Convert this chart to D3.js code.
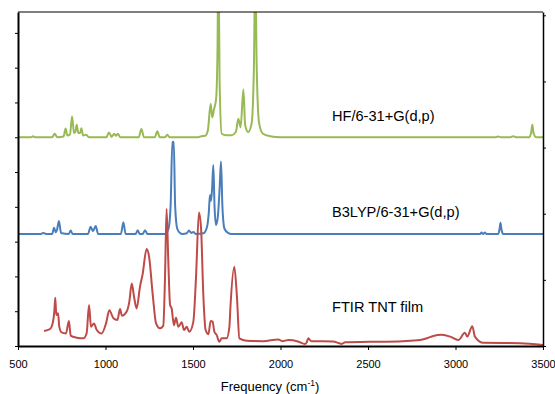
<!DOCTYPE html>
<html>
<head>
<meta charset="utf-8">
<script src="https://cdn.jsdelivr.net/npm/d3@7"></script>
<style>
  html, body { margin: 0; padding: 0; background: #fff; }
  svg { display: block; font-family: Arial, "Liberation Sans", sans-serif; }
</style>
</head>
<body>
<svg id="chart" width="555" height="394"></svg>
<script>
// x ticks (cm-1)
const xTicks = [500, 1000, 1500, 2000, 2500, 3000, 3500];
// unlabeled value ticks on both sides
const leftTicks = [0, 1, 2, 3, 4, 5, 6, 7, 8, 9];
const rightTicks = [0, 1, 2, 3, 4, 5];

// stacked offsets of the calculated spectra
const hfOffset = 6.0;
const b3lypOffset = 3.22;

// HF/6-31+G(d,p) calculated spectrum, [frequency, intensity above its baseline]
const hfPoints = [
  [500, 0], [575, 0], [586, 0.03], [597, 0], [695, 0], [710, 0.10], [724, 0],
  [760, 0.02], [772, 0.25], [782, 0.05], [797, 0.08], [809, 0.60], [820, 0.12],
  [828, 0.15], [835, 0.36], [845, 0.12], [855, 0.12], [862, 0.26], [872, 0.05],
  [890, 0.07], [905, 0], [1005, 0], [1020, 0.14], [1035, 0.01], [1050, 0.10],
  [1060, 0.04], [1070, 0.10], [1085, 0], [1190, 0], [1205, 0.24], [1220, 0],
  [1282, 0], [1296, 0.17], [1310, 0], [1340, 0], [1353, 0.07], [1366, 0],
  [1530, 0], [1548, 0.03], [1570, 0.04], [1585, 0.2], [1601, 0.96], [1610, 0.57],
  [1620, 0.80], [1632, 1.1], [1640, 2.5], [1645, 5.5], [1652, 1.6], [1664, 0.1],
  [1690, 0.06], [1720, 0.06], [1745, 0.15], [1759, 0.53], [1772, 0.29],
  [1788, 1.37], [1798, 0.35], [1815, 0.15], [1835, 0.4], [1848, 2.0],
  [1856, 5.0], [1864, 2.0], [1878, 0.4], [1900, 0.1], [1940, 0.03], [2000, 0],
  [3230, 0], [3243, 0.02], [3260, 0], [3315, 0], [3330, 0.03], [3345, 0],
  [3420, 0], [3432, 0.12], [3439, 0.36], [3446, 0.12], [3460, 0], [3500, 0]
];

// B3LYP/6-31+G(d,p) calculated spectrum
const b3lypPoints = [
  [500, 0], [630, 0], [645, 0.03], [660, 0], [695, 0], [706, 0.18], [716, 0.05],
  [722, 0.1], [734, 0.37], [746, 0.03], [790, 0], [801, 0.10], [812, 0],
  [900, 0], [915, 0.21], [928, 0.08], [944, 0.23], [958, 0], [1088, 0],
  [1102, 0.34], [1115, 0], [1172, 0], [1184, 0.11], [1196, 0], [1212, 0],
  [1226, 0.11], [1240, 0], [1340, 0], [1360, 0.15], [1372, 0.8], [1382, 2.65],
  [1386, 2.5], [1390, 2.65], [1398, 0.8], [1410, 0.15], [1426, 0.03], [1440, 0],
  [1465, 0.02], [1477, 0.10], [1490, 0.03], [1502, 0.06], [1515, 0], [1560, 0.02],
  [1580, 0.2], [1590, 0.6], [1597, 1.12], [1603, 0.95], [1609, 1.3], [1616, 1.98],
  [1623, 0.8], [1631, 0.26], [1642, 0.5], [1652, 1.3], [1660, 2.08], [1668, 0.8],
  [1680, 0.15], [1700, 0.03], [1720, 0], [3140, 0], [3149, 0.04], [3158, 0],
  [3168, 0.04], [3178, 0], [3244, 0], [3251, 0.12], [3257, 0.32], [3263, 0.12],
  [3272, 0], [3500, 0]
];

// FTIR TNT film measured spectrum
const ftirPoints = [
  [649, 0.43], [683, 0.49], [698, 0.65], [708, 1.03], [713, 1.39], [719, 0.89],
  [729, 0.94], [736, 0.55], [749, 0.39], [774, 0.36], [791, 0.72], [801, 0.30],
  [835, 0.24], [873, 0.22], [892, 0.36], [906, 1.18], [917, 0.55], [934, 0.65],
  [950, 0.46], [978, 0.36], [1003, 0.65], [1022, 1.03], [1045, 0.80], [1068, 0.75],
  [1083, 1.06], [1094, 0.87], [1121, 0.99], [1136, 1.27], [1150, 1.80], [1163, 1.42],
  [1178, 1.08], [1197, 1.70], [1212, 2.06], [1235, 2.79], [1249, 2.57], [1270, 1.47],
  [1289, 0.65], [1311, 0.51], [1330, 0.58], [1340, 1.95], [1349, 3.94], [1359, 2.42],
  [1369, 1.18], [1378, 1.08], [1391, 0.60], [1403, 0.81], [1416, 0.55], [1435, 0.68],
  [1449, 0.46], [1464, 0.55], [1479, 0.41], [1502, 0.70], [1517, 1.95], [1534, 3.84],
  [1546, 3.38], [1559, 1.47], [1572, 0.46], [1588, 0.34], [1601, 0.72], [1612, 0.70],
  [1622, 0.41], [1635, 0.32], [1650, 0.12], [1664, 0.22], [1692, 0.22], [1708, 0.55],
  [1714, 1.13], [1736, 2.28], [1751, 1.42], [1765, 0.22], [1806, 0.15], [1900, 0.14],
  [1988, 0.19], [2010, 0.14], [2045, 0.17], [2100, 0.13], [2140, 0.06], [2150, 0.11],
  [2159, 0.22], [2175, 0.14], [2300, 0.13], [2350, 0.06], [2370, 0.11], [2511, 0.12],
  [2700, 0.14], [2797, 0.17], [2840, 0.23], [2873, 0.29], [2921, 0.32], [2969, 0.27],
  [3016, 0.17], [3054, 0.38], [3067, 0.27], [3096, 0.57], [3111, 0.27], [3159, 0.09],
  [3369, 0.08], [3500, 0.03]
];

const series = [
  { name: "HF/6-31+G(d,p)", points: hfPoints, offset: hfOffset, color: "#98B954", labelY: 121 },
  { name: "B3LYP/6-31+G(d,p)", points: b3lypPoints, offset: b3lypOffset, color: "#4A7EBB", labelY: 217 },
  { name: "FTIR TNT film", points: ftirPoints, offset: 0, color: "#BE4B48", labelY: 312 }
];

const svg = d3.select("#chart");
const plotLeft = 18, plotRight = 543, plotTop = 12, plotBottom = 346;

const x = d3.scaleLinear().domain([500, 3500]).range([plotLeft, plotRight]);
const y = d3.scaleLinear().domain([0, 9.6]).range([plotBottom, plotTop]);
const yRight = d3.scaleLinear().domain([0, 5.05]).range([plotBottom, plotTop]);

svg.append("defs").append("clipPath").attr("id", "plotClip")
  .append("rect")
  .attr("x", plotLeft).attr("y", plotTop)
  .attr("width", plotRight - plotLeft).attr("height", plotBottom - plotTop);

// spectra
const line = d3.line().curve(d3.curveMonotoneX);
const plot = svg.append("g").attr("clip-path", "url(#plotClip)");
series.forEach((s) => {
  plot.append("path")
    .attr("fill", "none")
    .attr("stroke", s.color)
    .attr("stroke-width", 2)
    .attr("stroke-linejoin", "round")
    .attr("d", line(s.points.map((p) => [x(p[0]), y(p[1] + s.offset)])));
});

// top border
svg.append("line")
  .attr("x1", plotLeft).attr("x2", plotRight).attr("y1", plotTop).attr("y2", plotTop)
  .attr("stroke", "#000").attr("stroke-width", 1.2);

// axes
const xAxis = svg.append("g")
  .attr("transform", `translate(0,${plotBottom})`)
  .call(d3.axisBottom(x).tickValues(xTicks).tickFormat(d3.format("d"))
    .tickSize(4).tickSizeOuter(0).tickPadding(10));
xAxis.select(".domain").attr("stroke-width", 2);
xAxis.selectAll("text").style("font-size", "11px").attr("fill", "#000");

const yAxis = svg.append("g")
  .attr("transform", `translate(${plotLeft},0)`)
  .call(d3.axisLeft(y).tickValues(leftTicks).tickFormat("").tickSize(3).tickSizeOuter(0));
yAxis.select(".domain").attr("stroke-width", 2);

const yAxisR = svg.append("g")
  .attr("transform", `translate(${plotRight},0)`)
  .call(d3.axisRight(yRight).tickValues(rightTicks).tickFormat("").tickSize(3).tickSizeOuter(0));
yAxisR.select(".domain").attr("stroke-width", 1.5);

// series labels
svg.selectAll("text.label")
  .data(series)
  .join("text")
  .attr("class", "label")
  .attr("x", 332)
  .attr("y", (d) => d.labelY)
  .style("font-size", "14.6px")
  .attr("fill", "#000")
  .text((d) => d.name);

// x axis title
const title = svg.append("text")
  .attr("x", 270)
  .attr("y", 391)
  .attr("text-anchor", "middle")
  .style("font-size", "13px")
  .text("Frequency (cm");
title.append("tspan").attr("dy", -5).style("font-size", "8.5px").text("-1");
title.append("tspan").attr("dy", 5).text(")");
</script>
</body>
</html>
